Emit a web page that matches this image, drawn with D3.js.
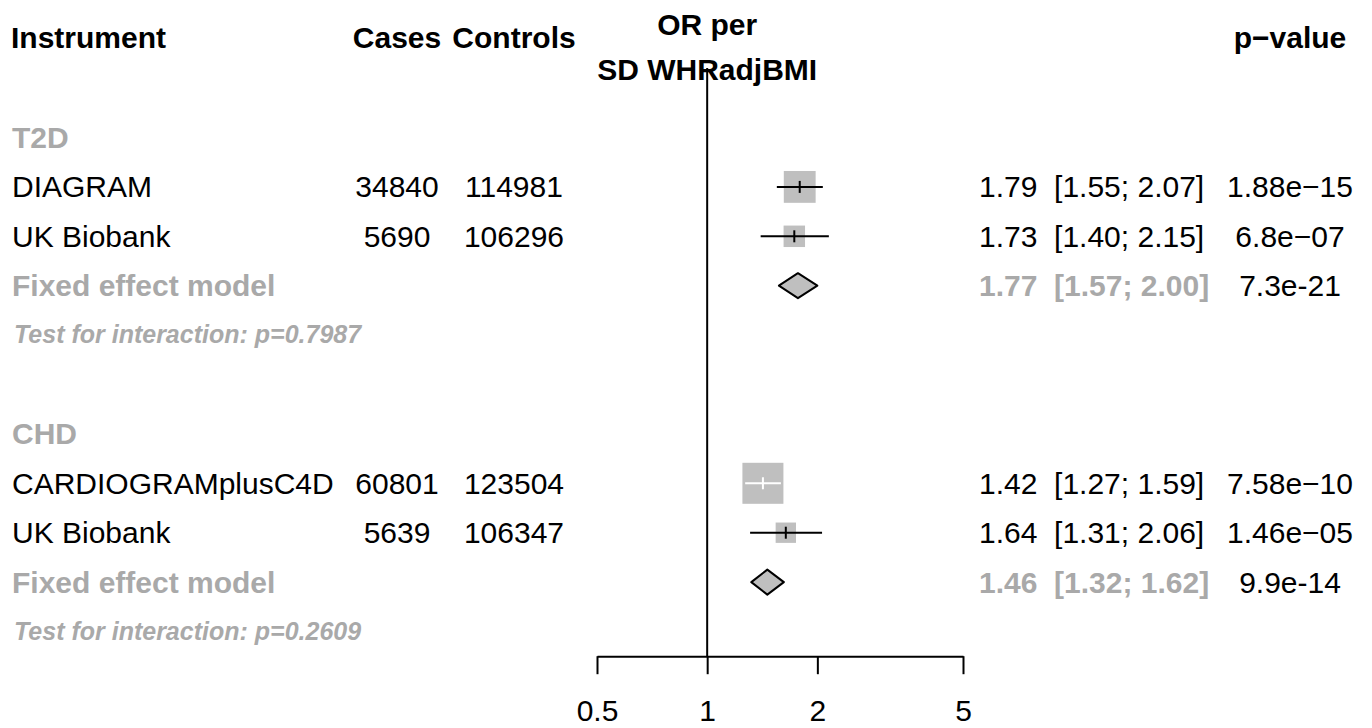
<!DOCTYPE html>
<html>
<head>
<meta charset="utf-8">
<script src="https://cdn.jsdelivr.net/npm/d3@7"></script>
<style>
  html, body { margin: 0; padding: 0; background: #fff; }
  text { font-family: "Liberation Sans", Arial, Helvetica, sans-serif; white-space: pre; }
</style>
</head>
<body>
<svg id="chart" width="1372" height="728"></svg>
<script>
// ---- Data ----
const groups = ["T2D", "CHD"];
const studies = ["DIAGRAM", "UK Biobank", "CARDIOGRAMplusC4D", "UK Biobank"];
const studyGroup = ["T2D", "T2D", "CHD", "CHD"];
const cases = [34840, 5690, 60801, 5639];
const controls = [114981, 106296, 123504, 106347];
const orEst = [1.79, 1.73, 1.42, 1.64];
const orLower = [1.55, 1.40, 1.27, 1.31];
const orUpper = [2.07, 2.15, 1.59, 2.06];
const pValues = ["1.88e\u221215", "6.8e\u221207", "7.58e\u221210", "1.46e\u221205"];
const weights = [28.4, 12.9, 47.1, 11.6];   // % weight (fixed effect)
const fixedOR = [1.77, 1.46];
const fixedLower = [1.57, 1.32];
const fixedUpper = [2.00, 1.62];
const fixedP = ["7.3e-21", "9.9e-14"];
const interactionP = ["0.7987", "0.2609"];
const xTicks = [0.5, 1, 2, 5];

// ---- Layout ----
const svg = d3.select("#chart");
const FONT = 30;
const GREY = "#a9a9a9";
const SQFILL = "#bfbfbf";
const colLabel = 11, colCases = 397, colControls = 514, colCI = 979, colP = 1290;

const x = d3.scaleLog().domain([0.5, 5]).range([597, 963]);
const y = d3.scaleLinear().domain([0, 10]).range([137.5, 631.5]);
const size = d3.scaleSqrt().domain([0, d3.max(weights)]).range([0, 41]);
const fmt = d3.format(".2f");

// Build row list
const rows = [];
let r = 0;
groups.forEach((g, gi) => {
  rows.push({type: "group", row: r, label: g}); r++;
  studies.forEach((s, i) => {
    if (studyGroup[i] !== g) return;
    rows.push({type: "study", row: r, i}); r++;
  });
  rows.push({type: "fixed", row: r, gi}); r++;
  rows.push({type: "test", row: r, gi}); r++;
  r++; // blank row
});

// ---- Headers ----
const hdr = svg.append("g").attr("font-weight", "bold").attr("font-size", FONT).attr("fill", "#000");
hdr.append("text").attr("x", colLabel).attr("y", 48).text("Instrument");
hdr.append("text").attr("x", colCases).attr("y", 48).attr("text-anchor", "middle").text("Cases");
hdr.append("text").attr("x", colControls).attr("y", 48).attr("text-anchor", "middle").text("Controls");
hdr.append("text").attr("x", x(1)).attr("y", 35).attr("text-anchor", "middle").text("OR per");
hdr.append("text").attr("x", x(1)).attr("y", 80).attr("text-anchor", "middle").text("SD WHRadjBMI");
hdr.append("text").attr("x", colP).attr("y", 48).attr("text-anchor", "middle").text("p\u2212value");

// ---- Reference line at OR = 1 ----
const axisY = y(10.5);
svg.append("line")
  .attr("x1", x(1)).attr("x2", x(1))
  .attr("y1", 68).attr("y2", axisY)
  .attr("stroke", "#000").attr("stroke-width", 2);

// ---- Rows ----
const base = 10.5;
rows.forEach(d => {
  const cy = y(d.row);
  if (d.type === "group") {
    svg.append("text").attr("x", colLabel + 1).attr("y", cy + base)
      .attr("font-size", FONT).attr("font-weight", "bold").attr("fill", GREY).text(d.label);
  } else if (d.type === "study") {
    const i = d.i;
    const g = svg.append("g").attr("font-size", FONT).attr("fill", "#000");
    g.append("text").attr("x", colLabel + 1).attr("y", cy + base).text(studies[i]);
    g.append("text").attr("x", colCases).attr("y", cy + base).attr("text-anchor", "middle").text(cases[i]);
    g.append("text").attr("x", colControls).attr("y", cy + base).attr("text-anchor", "middle").text(controls[i]);
    g.append("text").attr("x", colCI).attr("y", cy + base)
      .text(`${fmt(orEst[i])}  [${fmt(orLower[i])}; ${fmt(orUpper[i])}]`);
    g.append("text").attr("x", colP).attr("y", cy + base).attr("text-anchor", "middle").text(pValues[i]);

    // square
    const s = size(weights[i]);
    const cx = x(orEst[i]);
    svg.append("rect").attr("x", cx - s / 2).attr("y", cy - s / 2)
      .attr("width", s).attr("height", s).attr("fill", SQFILL);
    const inside = x(orLower[i]) >= cx - s / 2 && x(orUpper[i]) <= cx + s / 2;
    const lc = inside ? "#fff" : "#000";
    svg.append("line").attr("x1", x(orLower[i])).attr("x2", x(orUpper[i]))
      .attr("y1", cy).attr("y2", cy).attr("stroke", lc).attr("stroke-width", 2);
    svg.append("line").attr("x1", cx).attr("x2", cx)
      .attr("y1", cy - 6).attr("y2", cy + 6).attr("stroke", lc).attr("stroke-width", 2);
  } else if (d.type === "fixed") {
    const gi = d.gi;
    svg.append("text").attr("x", colLabel + 1).attr("y", cy + base)
      .attr("font-size", FONT).attr("font-weight", "bold").attr("fill", GREY).text("Fixed effect model");
    svg.append("text").attr("x", colCI).attr("y", cy + base)
      .attr("font-size", FONT).attr("font-weight", "bold").attr("fill", GREY)
      .text(`${fmt(fixedOR[gi])}  [${fmt(fixedLower[gi])}; ${fmt(fixedUpper[gi])}]`);
    svg.append("text").attr("x", colP).attr("y", cy + base).attr("text-anchor", "middle")
      .attr("font-size", FONT).attr("fill", "#000").text(fixedP[gi]);
    const h = 12.5;
    const pts = [[x(fixedLower[gi]), cy], [x(fixedOR[gi]), cy - h], [x(fixedUpper[gi]), cy], [x(fixedOR[gi]), cy + h]];
    svg.append("path").attr("d", "M" + pts.map(p => p.join(",")).join("L") + "Z")
      .attr("fill", SQFILL).attr("stroke", "#000").attr("stroke-width", 2).attr("stroke-linejoin", "round");
  } else if (d.type === "test") {
    svg.append("text").attr("x", colLabel + 3).attr("y", cy + 8)
      .attr("font-size", 25).attr("font-weight", "bold").attr("font-style", "italic")
      .attr("fill", GREY).text(`Test for interaction: p=${interactionP[d.gi]}`);
  }
});

// ---- Axis ----
const axis = d3.axisBottom(x).tickValues(xTicks).tickFormat(d3.format("")).tickSize(18).tickSizeOuter(0);
const ag = svg.append("g").attr("transform", `translate(0,${axisY})`).call(axis);
ag.select(".domain").attr("stroke", "#000").attr("stroke-width", 2);
ag.selectAll(".tick line").attr("stroke", "#000").attr("stroke-width", 2);
ag.selectAll(".tick text").attr("dy", null).attr("y", 65)
  .attr("font-size", FONT).attr("fill", "#000")
  .attr("font-family", '"Liberation Sans", Arial, Helvetica, sans-serif');
</script>
</body>
</html>
